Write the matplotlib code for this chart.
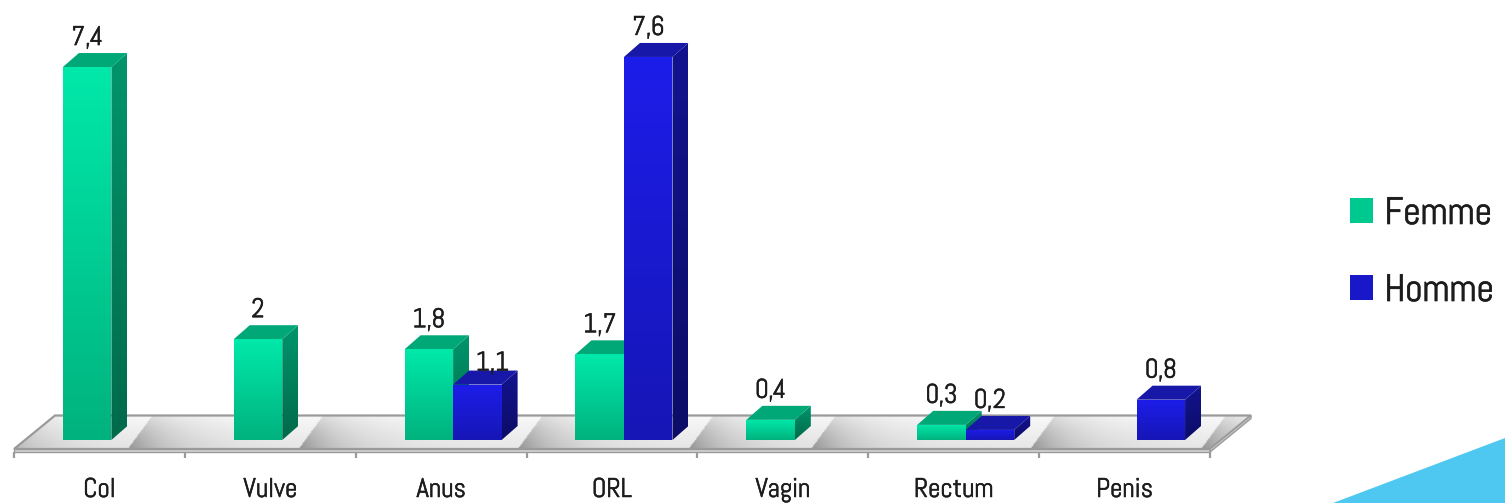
import numpy as np
import matplotlib
matplotlib.use("Agg")
import matplotlib.pyplot as plt
import matplotlib.patheffects as pe
from matplotlib.patches import Polygon, Patch
from matplotlib.colors import LinearSegmentedColormap

plt.rcParams["font.family"] = ["Abel", "Open Sans", "DejaVu Sans"]

# ---- data -------------------------------------------------------------
categories = ["Col", "Vulve", "Anus", "ORL", "Vagin", "Rectum", "Penis"]
femme = [7.4, 2, 1.8, 1.7, 0.4, 0.3, None]
homme = [None, None, 1.1, 7.6, None, 0.2, 0.8]
series_names = ["Femme", "Homme"]

# ---- styling ----------------------------------------------------------
FEMME_STYLE = dict(front=("#00E9AA", "#00B27E"), side=("#00956B", "#006A4B"), top="#00A878")
HOMME_STYLE = dict(front=("#1D1DEA", "#1616B6"), side=("#13138F", "#0C0C68"), top="#1717A8")
TEXT_COLOR = "#1c1c1c"
LABEL_SIZE = 19.5
LEGEND_SIZE = 27.5
TEXT_FX = [pe.withStroke(linewidth=0.35, foreground=TEXT_COLOR)]

W_PX, H_PX = 1505, 503
PX = 170.86   # pixels per category
PY = 50.4     # pixels per unit of value
X0_PX, Y0_PX = 14, 440  # where category 0 / value 0 (front face) sit

fig = plt.figure(figsize=(W_PX / 100, H_PX / 100), dpi=100)
ax = fig.add_axes([0, 0, 1, 1])
ax.set_xlim(-X0_PX / PX, (W_PX - X0_PX) / PX)
ax.set_ylim((Y0_PX - H_PX) / PY, Y0_PX / PY)
ax.axis("off")

BAR_W = 48.5 / PX
SHIFT = 0.07
DX, DY = 16 / PX, 14 / PY          # bar depth
FLOOR_F = -9 / PY                  # floor front edge
FLOOR_B = 24.5 / PY                # floor back edge
FLOOR_DX = 41 / PX                 # floor skew
SLAB = 3 / PY
N = len(categories)


def gradient_face(xy, c_top, c_bot, z):
    xy = np.asarray(xy)
    clip = Polygon(xy, closed=True, facecolor="none", edgecolor="none", zorder=z)
    ax.add_patch(clip)
    cmap = LinearSegmentedColormap.from_list("face", [c_bot, c_top])
    grad = np.linspace(1, 0, 128)[:, None]
    im = ax.imshow(grad, cmap=cmap, aspect="auto", origin="upper", interpolation="bilinear",
                   extent=[xy[:, 0].min(), xy[:, 0].max(), xy[:, 1].min(), xy[:, 1].max()],
                   zorder=z)
    im.set_clip_path(clip)


def bar3d(x, v, style, z):
    front = [(x, 0), (x + BAR_W, 0), (x + BAR_W, v), (x, v)]
    side = [(x + BAR_W, 0), (x + BAR_W + DX, DY), (x + BAR_W + DX, v + DY), (x + BAR_W, v)]
    top = [(x, v), (x + BAR_W, v), (x + BAR_W + DX, v + DY), (x + DX, v + DY)]
    gradient_face(side, style["side"][0], style["side"][1], z)
    ax.add_patch(Polygon(top, closed=True, facecolor=style["top"], edgecolor="none", zorder=z))
    gradient_face(front, style["front"][0], style["front"][1], z + 0.1)


# ---- floor ------------------------------------------------------------
floor_xy = [(0, FLOOR_F), (N, FLOOR_F), (N + FLOOR_DX, FLOOR_B), (FLOOR_DX, FLOOR_B)]
floor_clip = Polygon(floor_xy, closed=True, facecolor="none", edgecolor="none", zorder=1)
ax.add_patch(floor_clip)

# soft shading on the floor to the right of each group of bars
right_ends = []
for i in range(N):
    left = i + 0.5 - BAR_W + SHIFT
    ends = [left + BAR_W + DX] if femme[i] is not None else []
    if homme[i] is not None:
        ends.append(left + 2 * BAR_W + DX)
    if ends:
        right_ends.append(max(ends))
right_ends = np.array([-0.15] + right_ends)

gx = np.linspace(0, N + FLOOR_DX, 900)
gy = np.linspace(FLOOR_F, FLOOR_B, 60)
XX, YY = np.meshgrid(gx, gy)
t = (YY - FLOOR_F) / (FLOOR_B - FLOOR_F)
xp = XX - t * FLOOR_DX * 0.6
idx = np.searchsorted(right_ends, xp) - 1
dist = xp - right_ends[np.clip(idx, 0, None)]
shade = 0.975 - 0.33 * np.exp(-dist / 0.26) * (1 - 0.7 * t) - 0.07 * (1 - t)
im = ax.imshow(shade, cmap="gray", vmin=0, vmax=1, origin="lower", aspect="auto",
               interpolation="bilinear", extent=[gx[0], gx[-1], gy[0], gy[-1]], zorder=1)
im.set_clip_path(floor_clip)

edge = "#9a9a9a"
ax.add_patch(Polygon(floor_xy, closed=True, facecolor="none", edgecolor=edge, lw=1.6, zorder=1.5))
ax.add_patch(Polygon([(0, FLOOR_F - SLAB), (N, FLOOR_F - SLAB), (N, FLOOR_F), (0, FLOOR_F)],
                     closed=True, facecolor="#d4d4d4", edgecolor=edge, lw=1.0, zorder=1.5))
ax.add_patch(Polygon([(N, FLOOR_F - SLAB), (N + FLOOR_DX, FLOOR_B - SLAB), (N + FLOOR_DX, FLOOR_B), (N, FLOOR_F)],
                     closed=True, facecolor="#c8c8c8", edgecolor=edge, lw=1.0, zorder=1.5))

# category ticks
for k in range(N + 1):
    ax.plot([k, k], [FLOOR_F - SLAB, -18 / PY], color=edge, lw=1.6, zorder=1.5,
            solid_capstyle="butt")

# ---- bars -------------------------------------------------------------
label_nudge = {("Homme", "Anus"): (15, -8)}   # pixel nudge of a crowded label
z = 2
for i, cat in enumerate(categories):
    left = i + 0.5 - BAR_W + SHIFT
    for j, (vals, style, name) in enumerate(((femme, FEMME_STYLE, "Femme"),
                                             (homme, HOMME_STYLE, "Homme"))):
        v = vals[i]
        if v is None:
            continue
        x = left + j * BAR_W
        bar3d(x, v, style, z)
        z += 1
        nx, ny = label_nudge.get((name, cat), (0, 0))
        ax.text(x + BAR_W / 2 + nx / PX, v + (22 + ny) / PY, f"{v:g}".replace(".", ","),
                ha="center", va="baseline", fontsize=LABEL_SIZE, color=TEXT_COLOR, zorder=50,
                path_effects=TEXT_FX)
    ax.text(i + 0.5, (Y0_PX - 497) / PY, cat, ha="center", va="baseline",
            fontsize=LABEL_SIZE, color=TEXT_COLOR, zorder=50, path_effects=TEXT_FX)

# ---- legend -----------------------------------------------------------
handles = [Patch(facecolor="#00C98F", edgecolor="none"),
           Patch(facecolor="#1818C8", edgecolor="none")]
leg = ax.legend(handles, series_names, loc="upper left", bbox_to_anchor=(1350 / W_PX, 1 - 197 / H_PX),
                bbox_transform=fig.transFigure, frameon=False, fontsize=LEGEND_SIZE, handlelength=0.6,
                handleheight=0.6, handletextpad=0.3, labelspacing=1.1, borderpad=0, borderaxespad=0,
                labelcolor=TEXT_COLOR)
for txt in leg.get_texts():
    txt.set_path_effects([pe.withStroke(linewidth=0.45, foreground=TEXT_COLOR)])

# ---- corner accent ----------------------------------------------------
fig.patches.append(Polygon([(1333 / W_PX, 0), (1, 0), (1, 1 - 438 / H_PX)], closed=True,
                           facecolor="#4EC8F0", edgecolor="none", transform=fig.transFigure,
                           zorder=0))

fig.savefig("out.png", dpi=100)
